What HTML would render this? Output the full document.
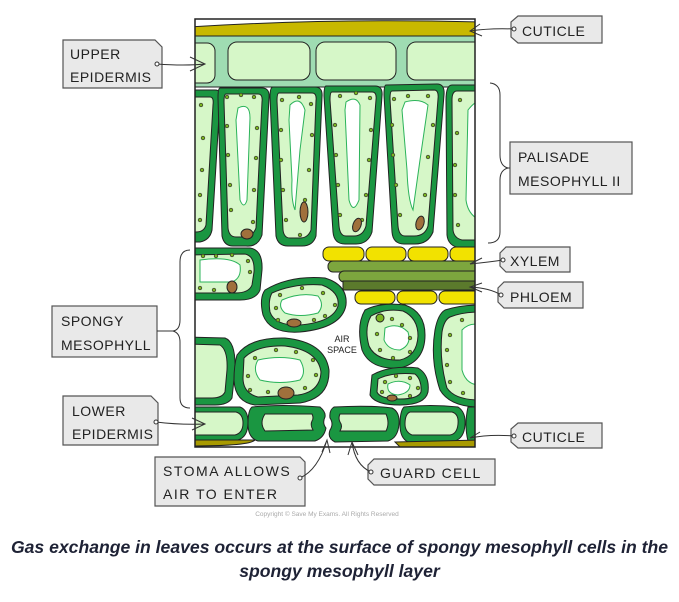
<!DOCTYPE html>
<html><head><meta charset="utf-8"><style>
body{margin:0;background:#fff;width:679px;height:602px;overflow:hidden}
svg{position:absolute;left:0;top:0}
.cap{position:absolute;left:0;width:679px;text-align:center;font-family:"Liberation Sans",sans-serif;font-weight:bold;font-style:italic;font-size:17.6px;color:#1e2235;white-space:nowrap}
</style></head><body>
<svg width="679" height="602" viewBox="0 0 679 602" font-family="Liberation Sans, sans-serif">
<defs>
<clipPath id="fr"><rect x="195" y="19" width="280" height="428"/></clipPath>
</defs>
<rect x="195" y="19" width="280" height="428" fill="#fff"/>
<g clip-path="url(#fr)" stroke="#222" stroke-width="1">
<path d="M190,27 Q330,18 480,22 L480,36 Q330,38 190,40 Z" fill="#c8b800"/>
<rect x="190" y="36" width="290" height="51" fill="#9fdcb2"/>
<rect x="185" y="43" width="30" height="40" rx="8" fill="#d6f7c8"/>
<rect x="228" y="42" width="82" height="38" rx="9" fill="#d6f7c8"/>
<rect x="316" y="42" width="80" height="38" rx="9" fill="#d6f7c8"/>
<rect x="407" y="42" width="80" height="38" rx="9" fill="#d6f7c8"/>
<g>
<path d="M185,90 L215,90 Q222,90 220,100 L212,230 Q210,240 200,242 L185,242 Z" fill="#1a9641"/>
<path d="M185,97 L210,97 Q214,97 213,105 L206,225 Q204,232 196,232 L185,232 Z" fill="#d6f7c8"/>
<path d="M220,88 L262,88 Q270,88 269,98 L262,235 Q258,247 246,246 L233,246 Q224,246 222,236 L218,98 Q218,88 220,88Z" fill="#1a9641"/>
<path d="M226,94 L258,94 Q263,94 262,102 L256,228 Q252,238 243,237 L236,237 Q229,237 228,228 L224,102 Q224,94 226,94Z" fill="#d6f7c8"/>
<path d="M238,108 Q250,102 250,118 L247,200 Q244,210 240,200 L236,120Z" fill="#fff" stroke="#2bb35a"/>
<path d="M273,87 L315,87 Q323,87 322,97 L316,236 Q313,246 302,246 L288,246 Q278,246 276,236 L270,97 Q270,87 273,87Z" fill="#1a9641"/>
<path d="M279,93 L312,93 Q317,93 316,101 L311,230 Q308,238 300,238 L290,238 Q284,238 283,230 L277,101 Q277,93 279,93Z" fill="#d6f7c8"/>
<path d="M290,105 Q300,95 305,110 L300,150 L295,210 Q291,200 292,180 L289,120Z" fill="#fff" stroke="#2bb35a"/>
<path d="M326,86 L375,86 Q383,86 382,96 L372,232 Q368,244 356,244 L345,244 Q334,244 333,232 L324,96 Q324,86 326,86Z" fill="#1a9641"/>
<path d="M332,92 L372,92 Q377,92 376,100 L366,226 Q363,236 354,236 L346,236 Q340,236 339,226 L330,100 Q330,92 332,92Z" fill="#d6f7c8"/>
<path d="M346,102 Q356,95 360,105 L359,200 Q353,215 349,200 L345,110Z" fill="#fff" stroke="#2bb35a"/>
<path d="M386,85 L437,84 Q445,84 444,95 L433,232 Q428,244 415,244 L404,244 Q393,244 392,232 L384,95 Q384,85 386,85Z" fill="#1a9641"/>
<path d="M392,91 L434,90 Q439,90 438,99 L428,226 Q425,236 414,236 L405,236 Q399,236 398,226 L390,99 Q390,91 392,91Z" fill="#d6f7c8"/>
<path d="M405,102 Q420,98 428,105 L420,160 L413,210 Q408,200 407,170 L402,110Z" fill="#fff" stroke="#2bb35a"/>
<path d="M452,85 L480,85 L480,248 L460,248 Q448,246 447,235 L446,100 Q446,85 452,85Z" fill="#1a9641"/>
<path d="M457,91 L480,91 L480,240 L462,240 Q454,238 453,230 L452,100 Q452,91 457,91Z" fill="#d6f7c8"/>
<path d="M468,110 Q476,100 480,102 L480,220 Q468,215 466,200Z" fill="#fff" stroke="#2bb35a"/>
<g fill="#7ab520" stroke="#333" stroke-width="0.7">
<circle cx="201" cy="105" r="1.8"/><circle cx="203" cy="138" r="1.8"/><circle cx="202" cy="170" r="1.8"/><circle cx="200" cy="195" r="1.8"/><circle cx="200" cy="220" r="1.8"/>
<circle cx="227" cy="97" r="1.8"/><circle cx="241" cy="95" r="1.8"/><circle cx="254" cy="97" r="1.8"/><circle cx="227" cy="126" r="1.8"/><circle cx="228" cy="155" r="1.8"/><circle cx="230" cy="185" r="1.8"/><circle cx="231" cy="210" r="1.8"/><circle cx="257" cy="128" r="1.8"/><circle cx="256" cy="158" r="1.8"/><circle cx="254" cy="190" r="1.8"/><circle cx="253" cy="222" r="1.8"/>
<circle cx="282" cy="100" r="1.8"/><circle cx="299" cy="97" r="1.8"/><circle cx="311" cy="104" r="1.8"/><circle cx="281" cy="130" r="1.8"/><circle cx="281" cy="160" r="1.8"/><circle cx="283" cy="190" r="1.8"/><circle cx="286" cy="220" r="1.8"/><circle cx="312" cy="135" r="1.8"/><circle cx="309" cy="170" r="1.8"/><circle cx="305" cy="200" r="1.8"/><circle cx="300" cy="235" r="1.8"/>
<circle cx="340" cy="96" r="1.8"/><circle cx="356" cy="93" r="1.8"/><circle cx="370" cy="98" r="1.8"/><circle cx="335" cy="125" r="1.8"/><circle cx="336" cy="155" r="1.8"/><circle cx="338" cy="185" r="1.8"/><circle cx="340" cy="215" r="1.8"/><circle cx="371" cy="130" r="1.8"/><circle cx="369" cy="160" r="1.8"/><circle cx="366" cy="195" r="1.8"/><circle cx="362" cy="220" r="1.8"/>
<circle cx="394" cy="99" r="1.8"/><circle cx="408" cy="96" r="1.8"/><circle cx="428" cy="96" r="1.8"/><circle cx="392" cy="125" r="1.8"/><circle cx="393" cy="155" r="1.8"/><circle cx="396" cy="185" r="1.8"/><circle cx="400" cy="215" r="1.8"/><circle cx="433" cy="125" r="1.8"/><circle cx="428" cy="157" r="1.8"/><circle cx="425" cy="195" r="1.8"/><circle cx="420" cy="225" r="1.8"/>
<circle cx="460" cy="100" r="1.8"/><circle cx="457" cy="133" r="1.8"/><circle cx="455" cy="165" r="1.8"/><circle cx="455" cy="195" r="1.8"/><circle cx="458" cy="225" r="1.8"/>
</g>
<g fill="#a0703c">
<ellipse cx="247" cy="234" rx="6" ry="5"/><ellipse cx="304" cy="212" rx="4" ry="10" /><ellipse cx="357" cy="225" rx="4" ry="7" transform="rotate(20 357 225)"/><ellipse cx="420" cy="223" rx="4" ry="7" transform="rotate(15 420 223)"/>
</g>
</g>
<g fill="#f2e200">
<rect x="323" y="247" width="41" height="14" rx="6"/><rect x="366" y="247" width="40" height="14" rx="6"/><rect x="408" y="247" width="40" height="14" rx="6"/><rect x="450" y="247" width="35" height="14" rx="6"/>
<rect x="355" y="291" width="40" height="13" rx="6"/><rect x="397" y="291" width="40" height="13" rx="6"/><rect x="439" y="291" width="45" height="13" rx="6"/>
</g>
<rect x="328" y="261" width="155" height="11" rx="5" fill="#7da63e"/>
<rect x="339" y="271" width="145" height="11" rx="5" fill="#7da63e"/>
<rect x="343" y="281" width="140" height="9" fill="#5b7a2c"/>
<g>
<path d="M185,248 L250,248 Q263,250 262,270 L260,290 Q256,300 240,300 L185,300Z" fill="#1a9641"/>
<path d="M185,255 L245,254 Q255,256 254,272 L252,285 Q249,293 235,293 L185,293Z" fill="#d6f7c8"/>
<path d="M200,260 Q230,256 240,265 Q242,278 232,282 L200,282Z" fill="#fff" stroke="#2bb35a"/>
<path d="M265,290 Q290,275 325,278 Q348,285 346,305 Q342,328 300,332 Q270,334 263,315 Q259,298 265,290Z" fill="#1a9641"/>
<path d="M272,293 Q295,283 322,285 Q340,292 338,306 Q333,322 300,325 Q275,326 270,312 Q268,300 272,293Z" fill="#d6f7c8"/>
<path d="M282,300 Q300,292 318,296 Q325,305 318,313 Q300,318 285,313 Q278,307 282,300Z" fill="#fff" stroke="#2bb35a"/>
<path d="M185,337 L225,338 Q236,342 235,370 L232,398 Q228,405 215,405 L185,405Z" fill="#1a9641"/>
<path d="M185,344 L220,345 Q228,350 227,370 L225,392 Q222,398 212,398 L185,398Z" fill="#d6f7c8"/>
<path d="M237,355 Q250,337 285,338 Q325,342 329,370 Q330,398 300,403 L255,405 Q235,402 234,380 Q234,365 237,355Z" fill="#1a9641"/>
<path d="M244,358 Q257,345 285,346 Q318,350 321,372 Q320,392 298,395 L258,397 Q243,393 243,378Z" fill="#d6f7c8"/>
<path d="M258,360 Q280,355 300,360 Q307,372 300,380 Q280,385 260,380 Q252,370 258,360Z" fill="#fff" stroke="#2bb35a"/>
<path d="M365,310 Q380,302 405,305 Q425,312 425,335 Q425,362 400,368 Q370,370 362,350 Q356,325 365,310Z" fill="#1a9641"/>
<path d="M371,316 Q385,308 403,311 Q418,318 418,336 Q417,356 400,360 Q376,361 369,346 Q364,328 371,316Z" fill="#d6f7c8"/>
<path d="M385,328 Q398,322 408,332 Q412,345 400,350 Q388,350 384,340Z" fill="#fff" stroke="#2bb35a"/>
<path d="M372,375 Q390,365 418,368 Q430,375 428,392 Q425,405 400,405 Q375,405 370,395Z" fill="#1a9641"/>
<path d="M378,379 Q392,372 415,374 Q422,380 421,392 Q418,399 400,399 Q380,399 377,392Z" fill="#d6f7c8"/>
<path d="M388,384 Q400,378 410,385 Q410,393 398,395 Q386,394 388,384Z" fill="#fff" stroke="#2bb35a"/>
<path d="M445,310 Q460,305 480,305 L480,407 Q450,407 440,390 Q430,360 435,330 Q438,314 445,310Z" fill="#1a9641"/>
<path d="M450,317 Q462,312 480,312 L480,400 Q455,400 447,388 Q439,360 442,332 Q444,320 450,317Z" fill="#d6f7c8"/>
<path d="M462,330 Q470,322 480,325 L480,385 Q466,385 462,370Z" fill="#fff" stroke="#2bb35a"/>
<g fill="#7ab520" stroke="#333" stroke-width="0.7">
<circle cx="203" cy="256" r="1.8"/><circle cx="216" cy="256" r="1.8"/><circle cx="232" cy="255" r="1.8"/><circle cx="248" cy="261" r="1.8"/><circle cx="250" cy="272" r="1.8"/><circle cx="200" cy="288" r="1.8"/><circle cx="214" cy="290" r="1.8"/><circle cx="230" cy="290" r="1.8"/>
<circle cx="280" cy="295" r="1.8"/><circle cx="302" cy="288" r="1.8"/><circle cx="323" cy="293" r="1.8"/><circle cx="335" cy="305" r="1.8"/><circle cx="276" cy="308" r="1.8"/><circle cx="278" cy="320" r="1.8"/><circle cx="314" cy="320" r="1.8"/><circle cx="325" cy="316" r="1.8"/>
<circle cx="255" cy="358" r="1.8"/><circle cx="276" cy="350" r="1.8"/><circle cx="296" cy="352" r="1.8"/><circle cx="313" cy="360" r="1.8"/><circle cx="248" cy="376" r="1.8"/><circle cx="250" cy="390" r="1.8"/><circle cx="268" cy="392" r="1.8"/><circle cx="305" cy="388" r="1.8"/><circle cx="316" cy="375" r="1.8"/>
<circle cx="392" cy="319" r="1.8"/><circle cx="402" cy="325" r="1.8"/><circle cx="377" cy="334" r="1.8"/><circle cx="410" cy="338" r="1.8"/><circle cx="380" cy="350" r="1.8"/><circle cx="393" cy="358" r="1.8"/><circle cx="410" cy="352" r="1.8"/>
<circle cx="385" cy="382" r="1.8"/><circle cx="396" cy="376" r="1.8"/><circle cx="410" cy="378" r="1.8"/><circle cx="418" cy="388" r="1.8"/><circle cx="382" cy="392" r="1.8"/><circle cx="410" cy="396" r="1.8"/>
<circle cx="462" cy="320" r="1.8"/><circle cx="450" cy="335" r="1.8"/><circle cx="447" cy="350" r="1.8"/><circle cx="447" cy="365" r="1.8"/><circle cx="450" cy="382" r="1.8"/><circle cx="463" cy="393" r="1.8"/>
</g>
<circle cx="380" cy="318" r="4" fill="#7ab520"/>
<g fill="#a0703c"><ellipse cx="294" cy="323" rx="7" ry="4"/><ellipse cx="286" cy="393" rx="8" ry="6"/><ellipse cx="232" cy="287" rx="5" ry="6"/><ellipse cx="392" cy="398" rx="5" ry="3"/></g>
</g>
<path d="M185,407 L240,407 Q248,410 248,422 Q248,437 238,440 L185,440Z" fill="#1a9641"/>
<path d="M185,412 L236,412 Q243,414 243,423 Q243,433 235,435 L185,435Z" fill="#d6f7c8"/>
<path d="M252,407 Q280,404 320,407 Q326,412 325,417 Q322,423 326,428 Q324,438 315,441 L258,441 Q248,438 248,424 Q248,410 252,407Z" fill="#1a9641"/>
<path d="M265,414 L312,414 Q314,418 312,421 Q310,425 313,430 L265,431 Q259,423 265,414Z" fill="#d6f7c8"/>
<path d="M334,407 Q370,405 392,408 Q400,412 399,424 Q398,438 388,441 L335,442 Q327,438 330,430 Q334,424 330,418 Q329,410 334,407Z" fill="#1a9641"/>
<path d="M340,414 L386,414 Q390,423 386,431 L340,431 Q343,426 340,422 Q338,418 340,414Z" fill="#d6f7c8"/>
<path d="M404,407 Q430,404 458,407 Q466,412 465,425 Q464,438 455,441 L408,442 Q400,438 400,425 Q400,411 404,407Z" fill="#1a9641"/>
<path d="M410,412 L452,412 Q459,414 458,424 Q457,434 450,435 L412,435 Q405,432 405,424 Q405,414 410,412Z" fill="#d6f7c8"/>
<path d="M468,407 L480,407 L480,441 L468,441 Q464,425 468,407Z" fill="#1a9641"/>
<path d="M190,440 L255,440 Q250,446 190,446Z" fill="#a89a00"/>
<path d="M395,442 L480,440 L480,447 L400,447Z" fill="#a89a00"/>
</g>
<rect x="195" y="19" width="280" height="428" fill="none" stroke="#222" stroke-width="1.5"/>
<text x="342" y="342" font-size="9" fill="#222" text-anchor="middle">AIR</text>
<text x="342" y="353" font-size="9" fill="#222" text-anchor="middle">SPACE</text>
<g fill="#e9e9e9" stroke="#555" stroke-width="1.2">
<path d="M63,40 L155,40 L162,47 L162,88 L63,88Z"/>
<path d="M518,16 L602,16 L602,43 L518,43 L511,37 L511,22Z"/>
<rect x="510" y="142" width="122" height="52"/>
<path d="M506,247 L570,247 L570,272 L506,272 L500,266 L500,253Z"/>
<path d="M504,282 L583,282 L583,308 L504,308 L498,302 L498,288Z"/>
<rect x="52" y="306" width="105" height="51"/>
<path d="M63,396 L151,396 L158,403 L158,445 L63,445Z"/>
<path d="M518,423 L602,423 L602,448 L518,448 L511,442 L511,429Z"/>
<path d="M155,457 L300,457 L305,462 L305,506 L155,506Z"/>
<path d="M374,459 L495,459 L495,485 L374,485 L368,479 L368,465Z"/>
</g>
<g fill="none" stroke="#333" stroke-width="1">
<path d="M157,64 Q185,66 205,64 M190,57 L205,64 L190,71"/>
<path d="M514,29 Q490,28 470,31 M480,24 L470,31 L482,36"/>
<path d="M490,83 Q500,84 500,95 L500,155 Q500,166 508,168 Q500,170 500,180 L500,232 Q500,243 488,243"/>
<path d="M190,250 Q180,250 180,262 L180,320 Q180,330 173,331 Q180,333 180,342 L180,398 Q180,408 190,408"/>
<path d="M173,331 L157,331 M508,168 L510,168"/>
<path d="M503,260 Q490,262 470,264 M482,258 L470,264"/>
<path d="M501,295 Q490,288 470,287 M482,283 L470,287 L482,292"/>
<path d="M156,422 Q180,425 205,424 M192,418 L205,424 L192,430"/>
<path d="M514,436 Q490,434 470,438 M480,432 L470,438"/>
<path d="M300,478 Q318,470 327,440 M322,452 L327,440 L330,453"/>
<path d="M371,472 Q355,465 352,442 M348,455 L352,442 L358,455"/>
</g>
<g fill="#fff" stroke="#333" stroke-width="1"><circle cx="157" cy="64" r="2"/><circle cx="514" cy="29" r="2"/><circle cx="503" cy="260" r="2"/><circle cx="501" cy="295" r="2"/><circle cx="156" cy="422" r="2"/><circle cx="514" cy="436" r="2"/><circle cx="300" cy="478" r="2"/><circle cx="371" cy="472" r="2"/></g>
<g font-size="14" fill="#222" letter-spacing="0.5">
<text x="70" y="59">UPPER</text><text x="70" y="82">EPIDERMIS</text>
<text x="522" y="36">CUTICLE</text>
<text x="518" y="162">PALISADE</text><text x="518" y="186">MESOPHYLL II</text>
<text x="510" y="266">XYLEM</text>
<text x="510" y="302">PHLOEM</text>
<text x="61" y="326">SPONGY</text><text x="61" y="350">MESOPHYLL</text>
<text x="72" y="416">LOWER</text><text x="72" y="439">EPIDERMIS</text>
<text x="522" y="442">CUTICLE</text>
<text x="163" y="476" letter-spacing="1.5">STOMA ALLOWS</text><text x="163" y="499" letter-spacing="1.5">AIR TO ENTER</text>
<text x="380" y="478" letter-spacing="1.2">GUARD CELL</text>
</g>
<text x="327" y="516" font-size="6.5" fill="#aaa" text-anchor="middle">Copyright © Save My Exams. All Rights Reserved</text>
</svg>
<div class="cap" style="top:537px">Gas exchange in leaves occurs at the surface of spongy mesophyll cells in the</div>
<div class="cap" style="top:561px">spongy mesophyll layer</div>
</body></html>
